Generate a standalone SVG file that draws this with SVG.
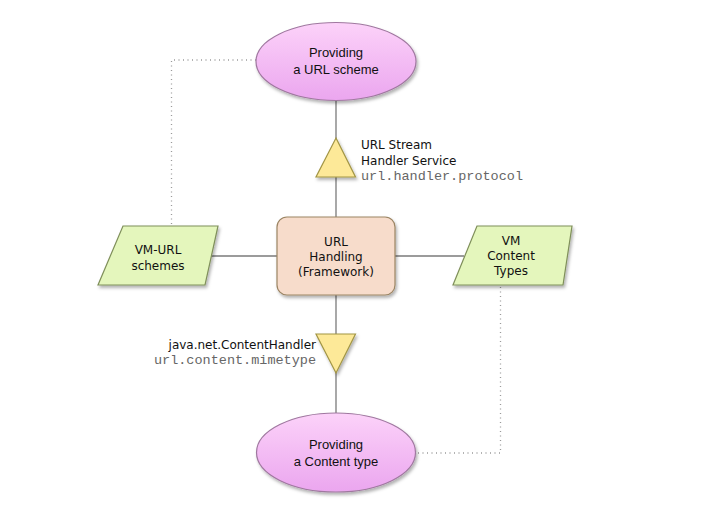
<svg xmlns="http://www.w3.org/2000/svg" width="709" height="512" viewBox="0 0 709 512">
<defs>
<linearGradient id="pink" x1="0" y1="0" x2="0" y2="1">
<stop offset="0" stop-color="#fcd2f9"/>
<stop offset="1" stop-color="#eba6ef"/>
</linearGradient>
<filter id="sh" x="-20%" y="-20%" width="140%" height="150%">
<feDropShadow dx="1.5" dy="2.5" stdDeviation="1.5" flood-color="#000" flood-opacity="0.3"/>
</filter>
<style>
.ell{fill:url(#pink);stroke:#a078a0;stroke-width:1.2;filter:url(#sh)}
.par{fill:#e4f6bc;stroke:#7f8f5a;stroke-width:1.2;filter:url(#sh)}
.box{fill:#f7dccb;stroke:#9c8564;stroke-width:1.2;filter:url(#sh)}
.tri{fill:#fde998;stroke:#a29545;stroke-width:1.2;filter:url(#sh)}
.ln{stroke:#7a7a7a;stroke-width:1.3;fill:none}
.dot{stroke:#9a9a9a;stroke-width:1.3;fill:none;stroke-dasharray:1 3.5}
.helv{font-family:"Liberation Sans",Arial,sans-serif;font-size:13px;fill:#111;text-anchor:middle}
.ver{font-family:"DejaVu Sans",Verdana,sans-serif;font-size:12px;fill:#111}
.mid{text-anchor:middle}
.mono{font-family:"Liberation Mono","Courier New",monospace;font-size:13.5px;fill:#666}
</style>
</defs>
<g id="connectors">
<line class="ln" x1="336" y1="100" x2="336" y2="217"/>
<line class="ln" x1="336" y1="295" x2="336" y2="413"/>
<line class="ln" x1="211" y1="256" x2="277" y2="256"/>
<line class="ln" x1="395" y1="256" x2="464" y2="256"/>
<polyline class="dot" points="256,60 171.5,60 171.5,226"/>
<polyline class="dot" points="500.5,287 500.5,453 416,453"/>
</g>
<g id="node-url-scheme">
<ellipse class="ell" cx="336" cy="61.5" rx="80" ry="39"/>
<text class="helv" x="336" y="57">Providing</text>
<text class="helv" x="336" y="74">a URL scheme</text>
</g>
<g id="node-content-type">
<ellipse class="ell" cx="336" cy="452.5" rx="79.5" ry="39.5"/>
<text class="helv" x="336" y="449">Providing</text>
<text class="helv" x="336" y="466">a Content type</text>
</g>
<g id="node-framework">
<rect class="box" x="277" y="217" width="118" height="78" rx="10" ry="10"/>
<text class="ver mid" x="336" y="246">URL</text>
<text class="ver mid" x="336" y="261">Handling</text>
<text class="ver mid" x="336" y="276">(Framework)</text>
</g>
<g id="node-vm-url">
<polygon class="par" points="123,226 218,226 205,285 98,285"/>
<text class="ver mid" x="158" y="254">VM-URL</text>
<text class="ver mid" x="158" y="270">schemes</text>
</g>
<g id="node-vm-content">
<polygon class="par" points="477,226 572,226 563,285 453,285"/>
<text class="ver mid" x="511" y="245">VM</text>
<text class="ver mid" x="511" y="260">Content</text>
<text class="ver mid" x="511" y="275">Types</text>
</g>
<g id="node-stream-service">
<polygon class="tri" points="336,138 355.5,177 316,177"/>
<text class="ver" x="361" y="149">URL Stream</text>
<text class="ver" x="361" y="165">Handler Service</text>
<text class="mono" x="361" y="180">url.handler.protocol</text>
</g>
<g id="node-content-handler">
<polygon class="tri" points="316,334 355.5,334 336,373"/>
<text class="ver" x="316" y="349" text-anchor="end">java.net.ContentHandler</text>
<text class="mono" x="316" y="364" text-anchor="end">url.content.mimetype</text>
</g>
</svg>
